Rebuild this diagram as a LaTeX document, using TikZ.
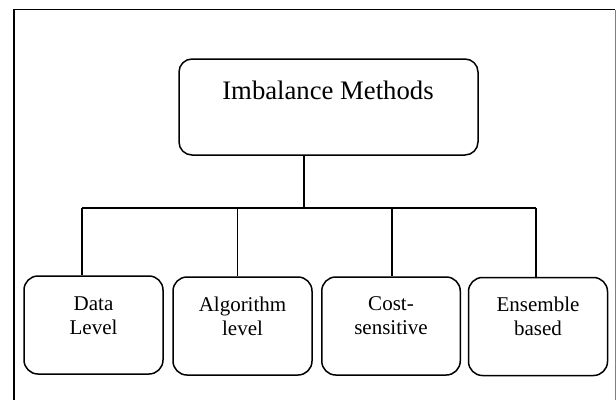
\documentclass[tikz,border=0pt]{standalone}
\usepackage{fontspec}
\setmainfont{Liberation Serif}
\begin{document}
\begin{tikzpicture}[x=1pt,y=-1pt,
  frameline/.style={line width=1.6pt,black},
  mainbox/.style={draw,line width=1.5pt,rounded corners=13pt,minimum width=299pt,minimum height=96pt,inner sep=0pt},
  subbox/.style={draw,line width=1.5pt,rounded corners=14pt,minimum width=139pt,minimum height=98pt,inner sep=0pt},
  toptext/.style={inner sep=0pt,anchor=base,font=\fontsize{26.7}{32}\selectfont},
  subtext/.style={inner sep=0pt,anchor=north,align=center,font=\fontsize{21}{24}\selectfont},
  conn/.style={line width=1.2pt}]
\useasboundingbox (0,0) rectangle (616,400);
% frame
\draw[frameline] (14,400) -- (14,9.5) -- (615,9.5);
\draw[gray,line width=0.8pt] (615,9.5) -- (615,400);
% top box
\node[mainbox] (top) at (328.5,107) {};
\node[toptext] (toplbl) at (328,99.3) {Imbalance Methods};
% bottom boxes
\node[subbox] (d1) at (93.5,325) {};
\node[subbox] (d2) at (242.5,326) {};
\node[subbox,minimum width=138.5pt] (d3) at (391,326) {};
\node[subbox] (d4) at (538,326.5) {};
\node[subtext] (t1) at (93.5,296.7) {Data\\Level};
\node[subtext] (t2) at (242.5,296.7) {Algorithm\\level};
\node[subtext] (t3) at (391,296.7) {Cost-\\sensitive};
\node[subtext] (t4) at (538,296.7) {Ensemble\\based};
% connectors
\coordinate (hub) at (304,208);
\coordinate (j1) at (82,208);
\coordinate (j2) at (237.5,208);
\coordinate (j3) at (392,208);
\coordinate (j4) at (536,208);
\draw[conn] (top.south -| hub) -- (hub);
\draw[conn] (j1) -- (j4);
\draw[conn] (j1) -- (j1 |- d1.north);
\draw[conn] (j2) -- (j2 |- d2.north);
\draw[conn] (j3) -- (j3 |- d3.north);
\draw[conn] (j4) -- (j4 |- d4.north);
\end{tikzpicture}
\end{document}
